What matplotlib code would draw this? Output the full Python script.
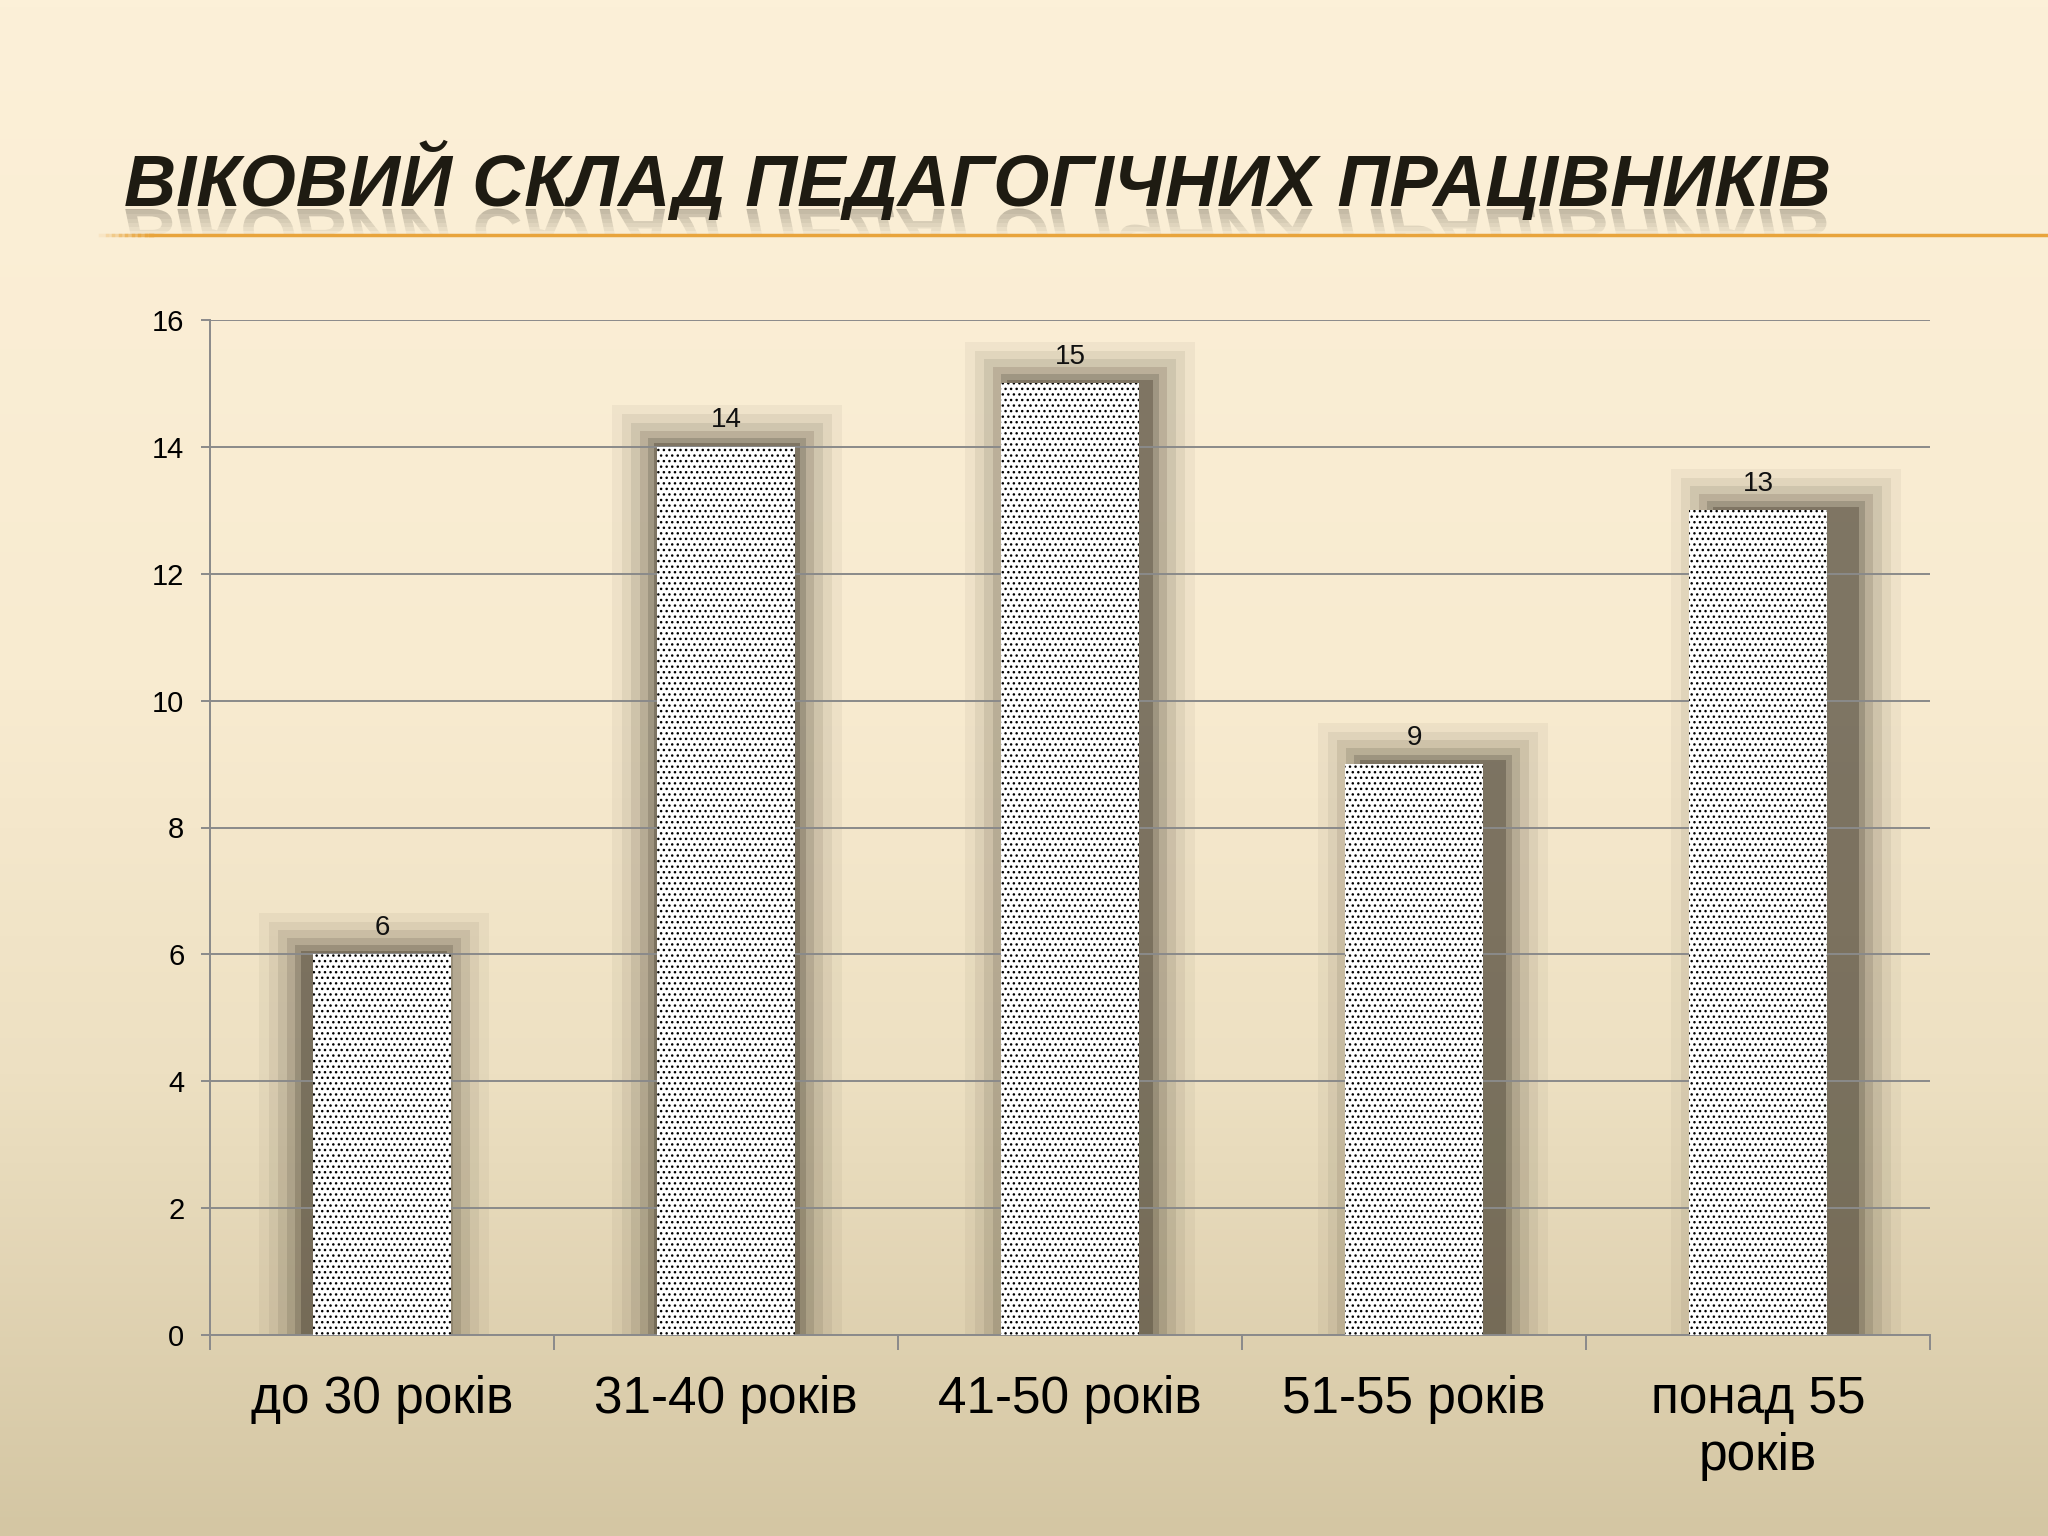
import numpy as np
import matplotlib
matplotlib.use("Agg")
import matplotlib.pyplot as plt
from matplotlib.colors import LinearSegmentedColormap
from matplotlib.patches import Rectangle, PathPatch
from matplotlib.textpath import TextPath
from matplotlib.font_manager import FontProperties
from matplotlib.transforms import Affine2D
from matplotlib.lines import Line2D

title = "ВІКОВИЙ СКЛАД ПЕДАГОГІЧНИХ ПРАЦІВНИКІВ"
categories = ["до 30 років", "31-40 років", "41-50 років", "51-55 років", "понад 55\nроків"]
counts = [6, 14, 15, 9, 13]
yticks = [0, 2, 4, 6, 8, 10, 12, 14, 16]

W, H = 2048, 1536
plt.rcParams["font.family"] = ["Liberation Sans", "DejaVu Sans"]
plt.rcParams["hatch.linewidth"] = 1.0
fig = plt.figure(figsize=(W / 100, H / 100), dpi=100)

# slide background
bg = fig.add_axes([0, 0, 1, 1], zorder=-10)
cmap = LinearSegmentedColormap.from_list(
    "bg", [(0, "#FCF0D8"), (0.45, "#F8EBD0"), (0.7, "#EDE0C2"), (1, "#D4C6A3")])
bg.imshow(np.linspace(0, 1, 512)[:, None], aspect="auto", cmap=cmap,
          extent=[0, 1, 0, 1], origin="upper")
bg.axis("off")

# title + its reflection
tsize = 52
title_fp = FontProperties(family=["Liberation Sans Narrow", "Liberation Sans"],
                          weight="bold", style="italic", size=tsize)
tx = 124
base = H - 206
fig.text(tx / W, base / H, title, fontproperties=title_fp, color="#1E1B12",
         ha="left", va="baseline")

tp = TextPath((0, 0), title, size=100, prop=title_fp)
sc = tsize / 72 * 100 / 100
to_fig = Affine2D().scale(1 / W, 1 / H) + fig.transFigure
refl_tr = Affine2D().scale(sc, -sc * 0.95).translate(tx, base - 3) + to_fig
nstrip = 7
for i in range(nstrip):
    y1 = base - i * 4.2
    p = PathPatch(tp, transform=refl_tr, facecolor="#1E1B12", edgecolor="none",
                  alpha=0.28 * (1 - i / nstrip))
    clip = Rectangle((0, (y1 - 4.2) / H), 1, 4.2 / H, transform=fig.transFigure)
    p.set_clip_path(clip)
    fig.add_artist(p)

# orange rule under the title
fig.add_artist(Line2D([150 / W, 1], [1301 / H, 1301 / H], color="#E8A43C", lw=2.5))
for k in range(8):
    xa = 100 + k * 6.5
    fig.add_artist(Line2D([xa / W, (xa + 6.5) / W], [1301 / H, 1301 / H],
                          color="#E8A43C", lw=2.5, alpha=(k + 1) / 9))

# chart
ax = fig.add_axes([210 / W, 1 - 1335 / H, 1720 / W, 1015 / H])
ax.set_facecolor("none")
x = np.arange(len(categories))
bw = 0.4
ax.set_xlim(-0.5, len(categories) - 0.5)
ax.set_ylim(0, 16)

# soft blocky shadows, pushed away from the chart centre
px_x = 1720 / len(categories)
px_y = 1015 / 16
mid = (len(categories) - 1) / 2
for xi, v in zip(x, counts):
    off = 10 + 9 * (xi - mid)
    for grow, a in [(4, 0.32), (10, 0.2), (18, 0.14), (27, 0.1), (36, 0.07), (46, 0.05)]:
        gx = grow / px_x
        gy = grow * 0.9 / px_y
        left = xi - bw / 2 + off / px_x - gx
        ax.add_patch(Rectangle((left, 0), bw + 2 * gx, v + gy,
                               facecolor="#3A3326", edgecolor="none", alpha=a, zorder=0.3))

ax.bar(x, counts, width=bw, color="white", edgecolor="black", hatch="...",
       linewidth=0, zorder=3)
for xi, v in zip(x, counts):
    ax.annotate(str(v), (xi, v), xytext=(0, 14), textcoords="offset points",
                ha="center", va="baseline", fontsize=20, color="#111111", zorder=4)

ax.set_axisbelow(True)
ax.yaxis.grid(True, color="#8A8A8A", lw=1.4)
ax.set_yticks(yticks)
ax.tick_params(axis="y", length=6.5, width=1.4, color="#8A8A8A", labelsize=21, pad=12)
ax.set_xticks(np.arange(len(categories) + 1) - 0.5)
ax.set_xticklabels([])
ax.set_xticks(x, minor=True)
ax.set_xticklabels(categories, minor=True, fontsize=37, linespacing=1.2)
ax.tick_params(axis="x", which="major", length=11, width=1.4, color="#8A8A8A")
ax.tick_params(axis="x", which="minor", length=0, pad=29)
for s in ["top", "right"]:
    ax.spines[s].set_visible(False)
for s in ["left", "bottom"]:
    ax.spines[s].set_color("#8A8A8A")
    ax.spines[s].set_linewidth(1.4)

fig.savefig("out.png", dpi=100)
